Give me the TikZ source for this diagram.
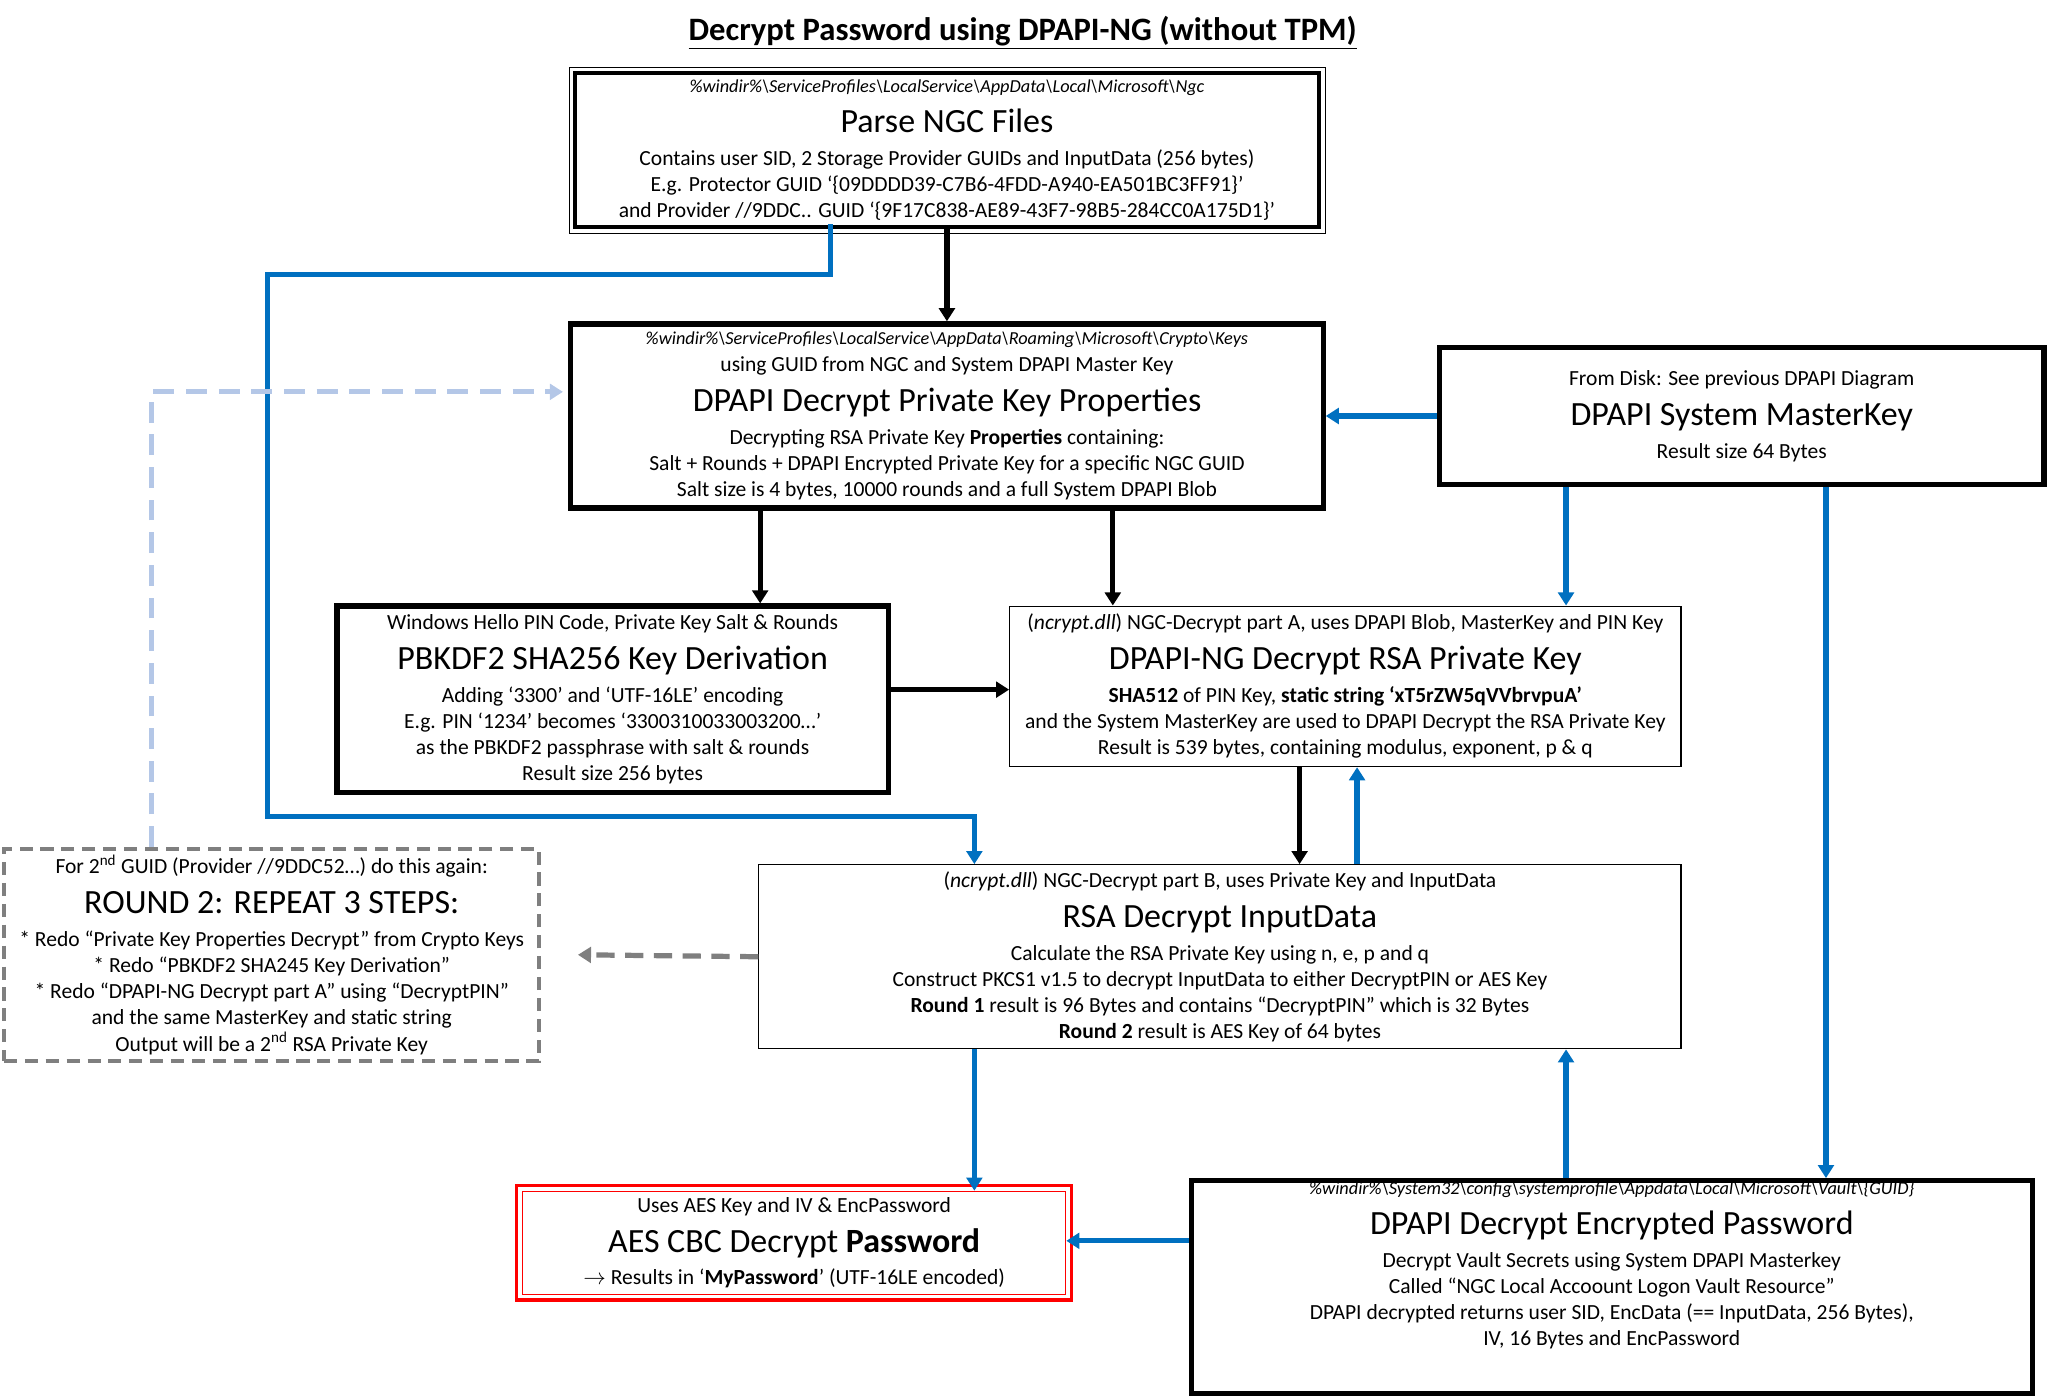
\documentclass[tikz,border=0pt]{standalone}
\usepackage{fontspec}
\setmainfont{Carlito}
\usetikzlibrary{arrows.meta}
\definecolor{arrblue}{HTML}{0070C0}
\definecolor{lightblue}{HTML}{B4C7E7}
\definecolor{dgray}{HTML}{7F7F7F}
\newcommand{\pth}[1]{{\fontsize{14}{19}\selectfont\itshape #1}\\}
\newcommand{\hd}[1]{{\fontsize{26}{31}\selectfont\rule{0pt}{27pt}#1}\\[5pt]}
\begin{document}
\begin{tikzpicture}[x=1pt,y=-1pt,
	box/.style={draw=black,rectangle,align=center,inner sep=0pt,font=\fontsize{16.5}{20}\selectfont},
	heavy/.style={box,line width=4pt},
	bk/.style={-{Triangle[length=10pt,width=12pt]},line width=4pt},
	bl/.style={-{Triangle[length=10pt,width=12pt]},line width=4pt,draw=arrblue},
	]
			\useasboundingbox (0,0) rectangle (1568,1070);
			\node[font=\fontsize{25}{30}\selectfont\bfseries] (title) at (783,25) {\underline{Decrypt Password using DPAPI-NG (without TPM)}};
			
			% boxes
			
			\node[box,line width=3pt,minimum width=570,minimum height=118] (ngc) at (725,115)
				{\pth{\%windir\%\textbackslash ServiceProfiles\textbackslash LocalService\textbackslash AppData\textbackslash Local\textbackslash Microsoft\textbackslash Ngc}
				\hd{Parse NGC Files}
				Contains user SID, 2 Storage Provider GUIDs and InputData (256 bytes)\\
				E.g. Protector GUID `\{09DDDD39-C7B6-4FDD-A940-EA501BC3FF91\}'\\
				and Provider //9DDC.. GUID `\{9F17C838-AE89-43F7-98B5-284CC0A175D1\}'};
			\draw ([shift={(-3,-3)}]ngc.north west) rectangle ([shift={(3,3)}]ngc.south east);
			
			\node[heavy,minimum width=576,minimum height=141] (props) at (725,318.5)
				{\pth{\%windir\%\textbackslash ServiceProfiles\textbackslash LocalService\textbackslash AppData\textbackslash Roaming\textbackslash Microsoft\textbackslash Crypto\textbackslash Keys}
				using GUID from NGC and System DPAPI Master Key\\
				\hd{DPAPI Decrypt Private Key Properties}
				Decrypting RSA Private Key \textbf{Properties} containing:\\
				Salt + Rounds + DPAPI Encrypted Private Key for a specific NGC GUID\\
				Salt size is 4 bytes, 10000 rounds and a full System DPAPI Blob};
			
			\node[heavy,minimum width=463,minimum height=105] (master) at (1333.5,318.5)
				{From Disk: See previous DPAPI Diagram\\
				\hd{DPAPI System MasterKey}
				Result size 64 Bytes};
			
			\node[heavy,minimum width=422,minimum height=143] (pbkdf) at (469,535.5)
				{Windows Hello PIN Code, Private Key Salt \& Rounds\\
				\hd{PBKDF2 SHA256 Key Derivation}
				Adding `3300' and `UTF-16LE' encoding\\
				E.g. PIN `1234' becomes `3300310033003200\dots'\\
				as the PBKDF2 passphrase with salt \& rounds\\
				Result size 256 bytes};
			
			\node[box,thick,minimum width=514,minimum height=123] (rsakey) at (1030,525.5)
				{(\textit{ncrypt.dll}) NGC-Decrypt part A, uses DPAPI Blob, MasterKey and PIN Key\\
				\hd{DPAPI-NG Decrypt RSA Private Key}
				\textbf{SHA512} of PIN Key, \textbf{static string `xT5rZW5qVVbrvpuA'}\\
				and the System MasterKey are used to DPAPI Decrypt the RSA Private Key\\
				Result is 539 bytes, containing modulus, exponent, p \& q};
			
			\node[box,thick,minimum width=706,minimum height=141] (input) at (934,732.5)
				{(\textit{ncrypt.dll}) NGC-Decrypt part B, uses Private Key and InputData\\
				\hd{RSA Decrypt InputData}
				Calculate the RSA Private Key using n, e, p and q\\
				Construct PKCS1 v1.5 to decrypt InputData to either DecryptPIN or AES Key\\
				\textbf{Round 1} result is 96 Bytes and contains ``DecryptPIN'' which is 32 Bytes\\
				\textbf{Round 2} result is AES Key of 64 bytes};
			
			\node[box,draw=dgray,line width=3pt,dash pattern=on 10pt off 6pt,minimum width=410,minimum height=162] (round) at (208,731)
				{For 2\textsuperscript{nd} GUID (Provider //9DDC52\dots) do this again:\\
				\hd{ROUND 2: REPEAT 3 STEPS:}
				* Redo ``Private Key Properties Decrypt'' from Crypto Keys\\
				* Redo ``PBKDF2 SHA245 Key Derivation''\\
				* Redo ``DPAPI-NG Decrypt part A'' using ``DecryptPIN''\\
				and the same MasterKey and static string\\
				Output will be a 2\textsuperscript{nd} RSA Private Key};
			
			\node[box,draw=red,thick,minimum width=416,minimum height=79] (aes) at (608,951.5)
				{Uses AES Key and IV \& EncPassword\\
				\hd{AES CBC Decrypt \textbf{Password}}
				$\rightarrow$ Results in `\textbf{MyPassword}' (UTF-16LE encoded)};
			\draw[red,line width=2.5pt] ([shift={(-4,-4)}]aes.north west) rectangle ([shift={(4,4)}]aes.south east);
			
			\node[heavy,minimum width=644,minimum height=163] (vault) at (1234,985.5)
				{\pth{\%windir\%\textbackslash System32\textbackslash config\textbackslash systemprofile\textbackslash Appdata\textbackslash Local\textbackslash Microsoft\textbackslash Vault\textbackslash \{GUID\}}
				\hd{DPAPI Decrypt Encrypted Password}
				Decrypt Vault Secrets using System DPAPI Masterkey\\
				Called ``NGC Local Accoount Logon Vault Resource''\\
				DPAPI decrypted returns user SID, EncData (== InputData, 256 Bytes),\\
				IV, 16 Bytes and EncPassword\\[16pt]};
			
			% columns
			
			\coordinate (c1) at (582,0);
			\coordinate (c2) at (852,0);
			\coordinate (c3) at (1199,0);
			\coordinate (c4) at (1398,0);
			\coordinate (c5) at (995,0);
			\coordinate (c6) at (1039,0);
			\coordinate (c7) at (746,0);
			\coordinate (c8) at (636,0);
			\coordinate (c9) at (116,0);
			\coordinate (r1) at (0,528);
			\coordinate (r2) at (0,950);
			
			\draw[bk] ([yshift=2]ngc.south) -- (props.north);
			\draw[bl] (master.west) -- (props.east);
			\draw[bk] (props.south -| c1) -- (pbkdf.north -| c1);
			\draw[bk] (props.south -| c2) -- (rsakey.north -| c2);
			\draw[bl] (master.south -| c3) -- (rsakey.north -| c3);
			\draw[bl] (master.south -| c4) -- (vault.north -| c4);
			\draw[bk] (pbkdf.east |- r1) -- (rsakey.west |- r1);
			\draw[bk] (rsakey.south -| c5) -- (input.north -| c5);
			\draw[bl] (input.north -| c6) -- (rsakey.south -| c6);
			\draw[bl] (input.south -| c7) -- (aes.north -| c7);
			\draw[bl] (vault.north -| c3) -- (input.south -| c3);
			\draw[bl] (vault.west |- r2) -- (aes.east |- r2);
			\draw[bl] ([yshift=4]ngc.south -| c8) |- (205,210) |- (746,625) -- (input.north -| c7);
			\draw[-{Triangle[length=10pt,width=12pt]},line width=4pt,draw=lightblue,dash pattern=on 16pt off 9pt]
				(round.north -| c9) |- ([xshift=-4]props.west |- 0,300);
			\draw[-{Triangle[length=10pt,width=12pt]},line width=4pt,draw=dgray,dash pattern=on 14pt off 8pt]
				(input.west) -- ([xshift=28]round.east);
			
		\end{tikzpicture}
\end{document}
